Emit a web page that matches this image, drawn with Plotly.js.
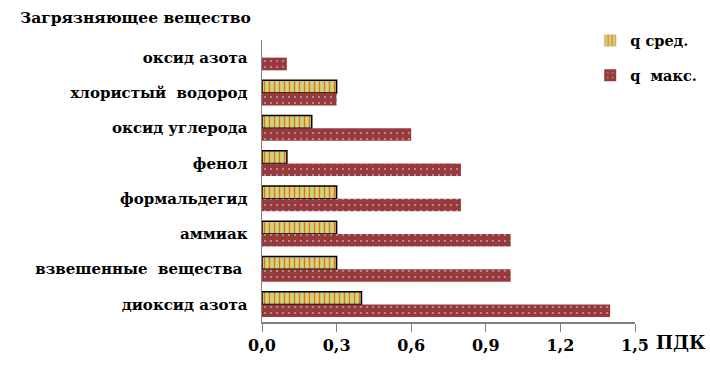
<!DOCTYPE html>
<html><head><meta charset="utf-8">
<script src="https://cdn.plot.ly/plotly-3.0.1.min.js"></script>
<style>body{margin:0;background:#fff}#c{width:710px;height:388px}</style>
</head><body><div id="c"></div>
<script>
const categories = ["оксид азота", "хлористый\u00a0 водород", "оксид углерода", "фенол", "формальдегид", "аммиак", "взвешенные\u00a0 вещества\u00a0", "диоксид азота"];
const qAvg = [0, 0.3, 0.2, 0.1, 0.3, 0.3, 0.3, 0.4];
const qMax = [0.1, 0.3, 0.6, 0.8, 0.8, 1.0, 1.0, 1.4];
const tickVals = [0, 0.3, 0.6, 0.9, 1.2, 1.5];

const font = "DejaVu Serif";
const traces = [
  {type: "bar", orientation: "h", name: "q сред.", y: categories, x: qAvg, legendgroup: "a",
   marker: {color: "#c9d78d", line: {color: "#000", width: qAvg.map(v => v > 0 ? 1.5 : 0)},
            pattern: {shape: "|", fgcolor: "#f07000", bgcolor: "#c9d78d", size: 5, solidity: 0.28}}},
  {type: "bar", orientation: "h", name: "q\u00a0 макс.", y: categories, x: qMax, legendgroup: "b",
   marker: {color: "#983a3a", line: {width: 0},
            pattern: {shape: ".", fgcolor: "#b9a3c6", bgcolor: "#983a3a", size: 6, solidity: 0.08}}}
];
const layout = {
  width: 710, height: 388,
  margin: {l: 262, r: 75, t: 40, b: 66, autoexpand: false},
  paper_bgcolor: "#fff", plot_bgcolor: "#fff",
  font: {family: font, color: "#000", size: 15},
  barmode: "group", bargap: 0.28, bargroupgap: 0,
  showlegend: true,
  legend: {x: 0.88, xanchor: "left", y: 1.055, yanchor: "top", bgcolor: "rgba(0,0,0,0)",
           font: {family: font, size: 14.5, color: "#000", weight: "bold"},
           traceorder: "grouped", tracegroupgap: 13, itemwidth: 30},
  xaxis: {range: [0, 1.5], tickvals: tickVals, tickformat: ".1f", ticks: "outside", ticklen: 8,
          tickcolor: "#808080", showline: true, linecolor: "#808080", linewidth: 1.5,
          showgrid: false, zeroline: false, fixedrange: true, automargin: false,
          tickfont: {family: font, size: 16, weight: "bold"}},
  yaxis: {type: "category", autorange: "reversed", showline: true, linecolor: "#808080", linewidth: 1.5,
          ticks: "", showgrid: false, zeroline: false, ticklabelstandoff: 10, automargin: false,
          tickfont: {family: font, size: 15, weight: "bold"}},
  separators: ", ",
  annotations: [
    {text: "Загрязняющее вещество", xref: "paper", yref: "paper", x: -0.654, y: 1.04, xanchor: "left", yanchor: "bottom",
     showarrow: false, font: {family: font, size: 15.5, weight: "bold"}},
    {text: "ПДК", xref: "paper", yref: "paper", x: 1.05, y: -0.03, xanchor: "left", yanchor: "top",
     showarrow: false, font: {family: font, size: 18, weight: "bold"}}
  ]
};
Plotly.newPlot("c", traces, layout, {displayModeBar: false, staticPlot: true});
</script></body></html>
